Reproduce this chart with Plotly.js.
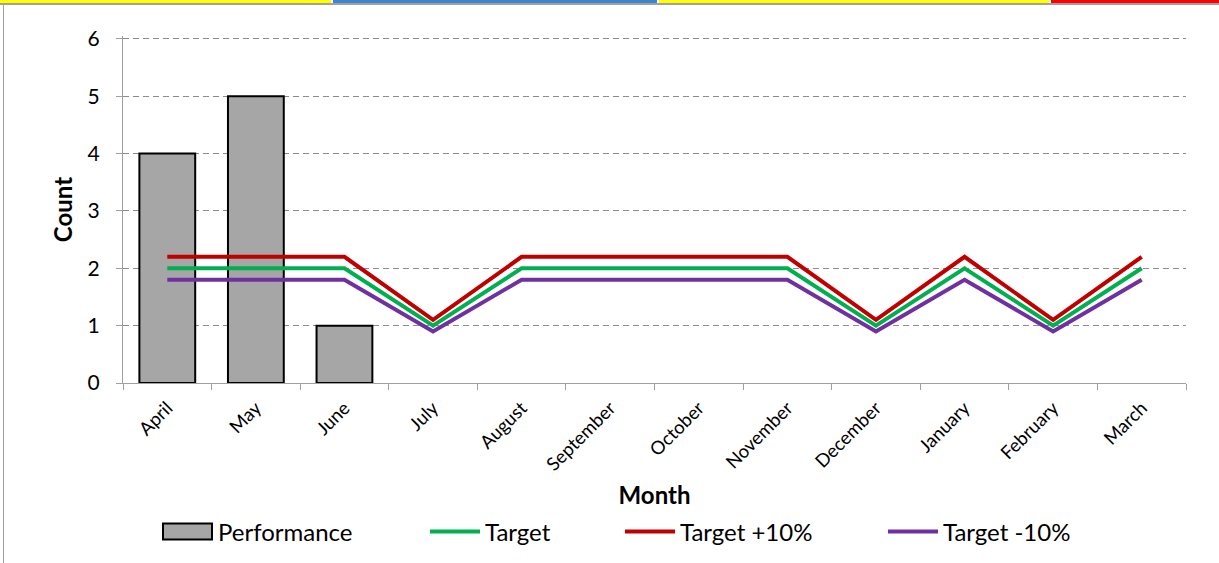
<!DOCTYPE html>
<html>
<head>
<meta charset="utf-8">
<script src="https://cdn.plot.ly/plotly-3.0.1.min.js"></script>
<style>
  html, body { margin: 0; padding: 0; background: #fff; }
  #wrap { position: relative; width: 1219px; height: 563px; overflow: hidden; }
  #chart { position: absolute; left: 0; top: 0; width: 1219px; height: 563px; }
  .strip { position: absolute; top: 0; height: 3px; }
  #grayline { position: absolute; left: 0; top: 3px; width: 1219px; height: 2px; background: #a0a0a0; }
  #leftline { position: absolute; left: 3px; top: 5px; width: 1px; height: 558px; background: #a0a0a0; }
</style>
</head>
<body>
<div id="wrap">
  <div id="chart"></div>
  <div class="strip" style="left:0;width:331px;background:#ffff00"></div>
  <div class="strip" style="left:333px;width:324px;background:#3a86d0"></div>
  <div class="strip" style="left:659px;width:390px;background:#ffff00"></div>
  <div class="strip" style="left:1051px;width:168px;background:#ff0000"></div>
  <div id="grayline"></div>
  <div id="leftline"></div>
</div>
<script>
const months = ["April","May","June","July","August","September","October","November","December","January","February","March"];
const performance = [4, 5, 1, null, null, null, null, null, null, null, null, null];
const target = [2, 2, 2, 1, 2, 2, 2, 2, 1, 2, 1, 2];
const targetPlus10 = [2.2, 2.2, 2.2, 1.1, 2.2, 2.2, 2.2, 2.2, 1.1, 2.2, 1.1, 2.2];
const targetMinus10 = [1.8, 1.8, 1.8, 0.9, 1.8, 1.8, 1.8, 1.8, 0.9, 1.8, 0.9, 1.8];
const yTicks = [0, 1, 2, 3, 4, 5, 6];

const FONT = "Lato, 'Open Sans', sans-serif";

const traces = [
  { type: "bar", name: "Performance", x: months, y: performance, legend: "legend",
    marker: { color: "#a6a6a6", line: { color: "#000000", width: 2 } } },
  { type: "scatter", mode: "lines", name: "Target", x: months, y: target, legend: "legend2",
    line: { color: "#00b050", width: 4 } },
  { type: "scatter", mode: "lines", name: "Target +10%", x: months, y: targetPlus10, legend: "legend3",
    line: { color: "#c00000", width: 4 } },
  { type: "scatter", mode: "lines", name: "Target -10%", x: months, y: targetMinus10, legend: "legend4",
    line: { color: "#7030a0", width: 4 } }
];

function legendAt(px) {
  return {
    xref: "container", yref: "container",
    x: px / 1219, xanchor: "left",
    y: 1 - 532 / 563, yanchor: "middle",
    orientation: "h",
    font: { size: 24, family: FONT },
    itemwidth: 50,
    bgcolor: "rgba(0,0,0,0)"
  };
}

const layout = {
  width: 1219, height: 563,
  margin: { l: 123, r: 33, t: 36, b: 180 },
  paper_bgcolor: "rgba(0,0,0,0)",
  plot_bgcolor: "#ffffff",
  bargap: 0.37,
  showlegend: true,
  font: { family: FONT, color: "#000000" },
  xaxis: {
    type: "category",
    automargin: false,
    tickangle: -45,
    tickfont: { size: 18.5, family: FONT },
    ticklabelstandoff: 6,
    showline: true, linecolor: "#a0a0a0", linewidth: 1,
    ticks: "outside", ticklen: 6, tickcolor: "#a0a0a0",
    tickson: "boundaries",
    showgrid: false,
    range: [-0.5, 11.5],
    title: { text: "Month", font: { size: 24, family: FONT, weight: "bold" }, standoff: 20 }
  },
  yaxis: {
    automargin: false,
    range: [0, 6.05],
    tickvals: yTicks,
    tickfont: { size: 21, family: FONT },
    ticklabelstandoff: 12,
    showline: true, linecolor: "#a0a0a0", linewidth: 1,
    ticks: "outside", ticklen: 6, tickcolor: "#a0a0a0",
    showgrid: true, gridcolor: "#8c8c8c", griddash: "6px,4px", gridwidth: 1,
    zeroline: false,
    title: { text: "Count", font: { size: 24, family: FONT, weight: "bold" }, standoff: 8 }
  },
  legend: legendAt(158),
  legend2: legendAt(425),
  legend3: legendAt(620),
  legend4: legendAt(883)
};

Plotly.newPlot("chart", traces, layout, { displayModeBar: false, staticPlot: true }).then(function (gd) {
  // widen the bar legend swatch into a rectangle like the reference
  const first = gd.querySelector(".legend .traces .legendpoints path");
  if (first) {
    first.setAttribute("d", "M-25,-8H24V8H-25Z");
    first.style.strokeWidth = "2px";
  }
});
</script>
</body>
</html>
